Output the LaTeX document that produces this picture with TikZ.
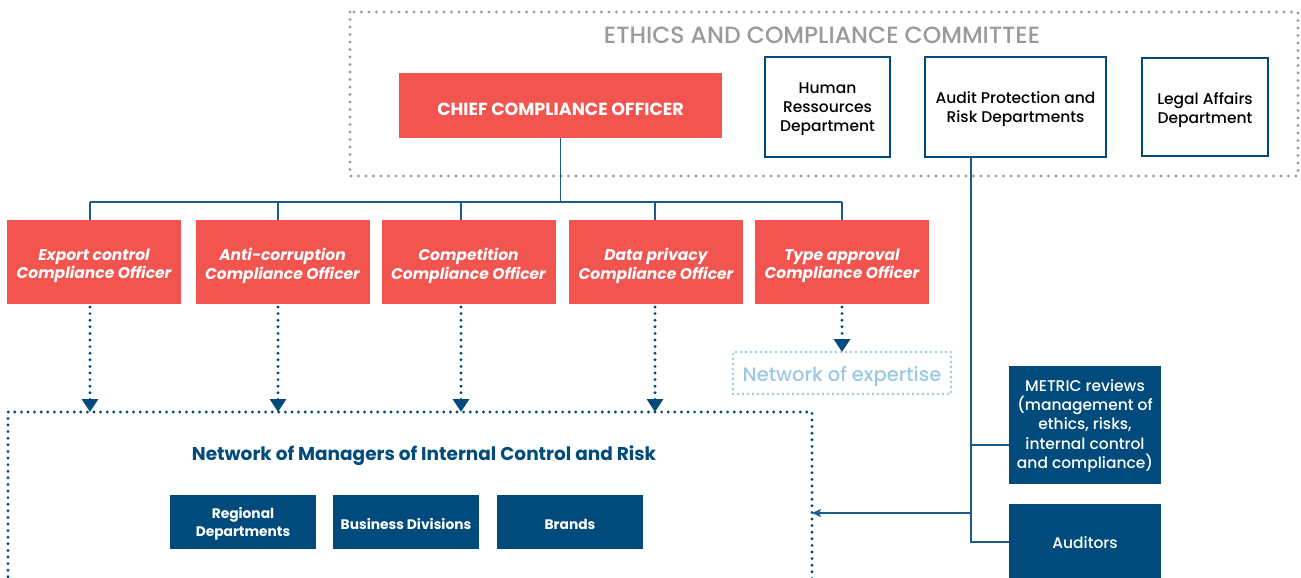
\documentclass[tikz,border=0pt]{standalone}
\usepackage{fontspec}
\setmainfont{Poppins}[UprightFont=* Medium, BoldFont=* Bold, ItalicFont=* Medium Italic, BoldItalicFont=* Bold Italic]
\usetikzlibrary{arrows.meta,calc}
\definecolor{cred}{HTML}{F2554F}
\definecolor{cnavy}{HTML}{004B7C}
\definecolor{cline}{HTML}{1B5A8A}
\definecolor{cgray}{HTML}{9E9E9E}
\definecolor{ctitle}{HTML}{9A9A9A}
\definecolor{clight}{HTML}{9CC8E2}
\begin{document}
\begin{tikzpicture}[x=1pt,y=-1pt,
  every node/.style={inner sep=0pt,outer sep=0pt,align=center},
  redbox/.style={fill=cred},
  ccotxt/.style={text=white,font=\fontsize{17.5}{20}\selectfont\bfseries,yshift=-3.5pt},
  offbox/.style={redbox,minimum width=174pt,minimum height=84pt},
  offtxt/.style={text=white,font=\fontsize{15.5}{18.5}\selectfont\bfseries\itshape,yshift=-4pt},
  outbox/.style={draw=cnavy,line width=2pt,fill=white},
  outtxt/.style={text=black,font=\fontsize{15.5}{19}\selectfont,yshift=-2.5pt},
  navybox/.style={fill=cnavy,minimum width=146pt,minimum height=54pt},
  navytxt/.style={text=white,font=\fontsize{13.8}{18}\selectfont\bfseries,yshift=-2pt},
  sidebox/.style={fill=cnavy,minimum width=152pt},
  sidetxt/.style={text=white,font=\fontsize{15.5}{19.3}\selectfont},
  tree/.style={draw=cline,line width=1.8pt},
  dotline/.style={draw=cnavy,line width=3.2pt,line cap=round,dash pattern=on 0pt off 6.6pt},
  dotarrow/.style={dotline,-{Triangle[width=16pt,length=13pt,fill=cnavy,line cap=butt]}},
]
\useasboundingbox (0,0) rectangle (1301,578);
% Ethics committee frame
\draw[draw=cgray,line width=3.2pt,line cap=round,dash pattern=on 0pt off 7.5pt] (350,12) rectangle (1298,176);
\node[text=ctitle,font=\fontsize{23.5}{26}\selectfont] (ecc) at (822,35) {ETHICS AND COMPLIANCE COMMITTEE};
% Top boxes
\node[redbox,minimum width=323pt,minimum height=65pt,label={[ccotxt]center:CHIEF COMPLIANCE OFFICER}] (cco) at (560.5,105.5) {};
\node[outbox,minimum width=125pt,minimum height=100pt,label={[outtxt]center:Human\\Ressources\\Department}] (hr) at (827.5,107) {};
\node[outbox,minimum width=181pt,minimum height=100pt,label={[outtxt]center:Audit Protection and\\Risk Departments}] (audit) at (1015.5,107) {};
\node[outbox,minimum width=126pt,minimum height=98pt,label={[outtxt,yshift=-0.5pt]center:Legal Affairs\\Department}] (legal) at (1205,107) {};
% Officers
\node[offbox,label={[offtxt]center:Export control\\Compliance Officer}] (o1) at (94,262) {};
\node[offbox,label={[offtxt]center:Anti-corruption\\Compliance Officer}] (o2) at (282.5,262) {};
\node[offbox,label={[offtxt]center:Competition\\Compliance Officer}] (o3) at (468.5,262) {};
\node[offbox,label={[offtxt]center:Data privacy\\Compliance Officer}] (o4) at (656,262) {};
\node[offbox,label={[offtxt]center:Type approval\\Compliance Officer}] (o5) at (842,262) {};
% tree
\coordinate (bar) at (0,202);
\draw[tree] (cco.south) -- (cco.south |- bar);
\draw[tree] ([xshift=-4pt]o1.north |- bar) -- (o5.north |- bar);
\draw[tree] ([xshift=-4pt]o1.north |- bar) -- ([xshift=-4pt]o1.north);
\draw[tree] ([xshift=-4.5pt]o2.north |- bar) -- ([xshift=-4.5pt]o2.north);
\draw[tree] ([xshift=-7.5pt]o3.north |- bar) -- ([xshift=-7.5pt]o3.north);
\draw[tree] ([xshift=-1pt]o4.north |- bar) -- ([xshift=-1pt]o4.north);
\draw[tree] (o5.north |- bar) -- (o5.north);
% network of expertise
\node[draw=clight,line width=2.8pt,line cap=round,dash pattern=on 0pt off 5pt,minimum width=218pt,minimum height=42pt,
  label={[text=clight,font=\fontsize{19.5}{22}\selectfont,yshift=-4pt]center:Network of expertise}] (exp) at (842,373) {};
\draw[dotarrow] ([yshift=-3pt]o5.south) -- (exp.north);
% network of managers
\coordinate (ntl) at (8,412);
\coordinate (ntr) at (812,412);
\coordinate (nbl) at (8,590);
\coordinate (nbr) at (812,590);
\draw[dotline] (nbl) -- (ntl) -- (ntr) -- (nbr);
\foreach \o/\s in {o1/-4,o2/-4.5,o3/-7.5,o4/-1}{
  \draw[dotarrow] ([xshift=\s pt,yshift=-3pt]\o.south) -- ([xshift=\s pt]\o.south |- ntl);
}
\node[text=cnavy,font=\fontsize{18.5}{22}\selectfont\bfseries] (nmt) at (424,456) {Network of Managers of Internal Control and Risk};
\node[navybox,label={[navytxt]center:Regional\\Departments}] (reg) at (243,522) {};
\node[navybox,label={[navytxt]center:Business Divisions}] (bus) at (406,522) {};
\node[navybox,label={[navytxt]center:Brands}] (bra) at (570,522) {};
% side boxes
\node[sidebox,minimum height=118pt,label={[sidetxt,yshift=-1pt]center:METRIC reviews\\(management of\\ethics, risks,\\internal control\\and compliance)}] (metric) at (1085,425) {};
\node[sidebox,minimum height=74pt,label={[sidetxt,yshift=-2pt]center:Auditors}] (aud) at (1085,541) {};
\coordinate (spine) at (971,0);
\coordinate (arr) at (0,513);
\draw[tree,line width=1.6pt] (audit.south -| spine) |- ([yshift=-1pt]aud.west);
\draw[tree,line width=1.6pt] ([yshift=-20pt]metric.west) -- ([yshift=-20pt]metric.west -| spine);
\draw[tree,line width=1.6pt,-{Stealth[length=9pt,width=8pt,inset=2pt]}] (spine |- arr) -- (ntr |- arr);
\end{tikzpicture}
\end{document}
